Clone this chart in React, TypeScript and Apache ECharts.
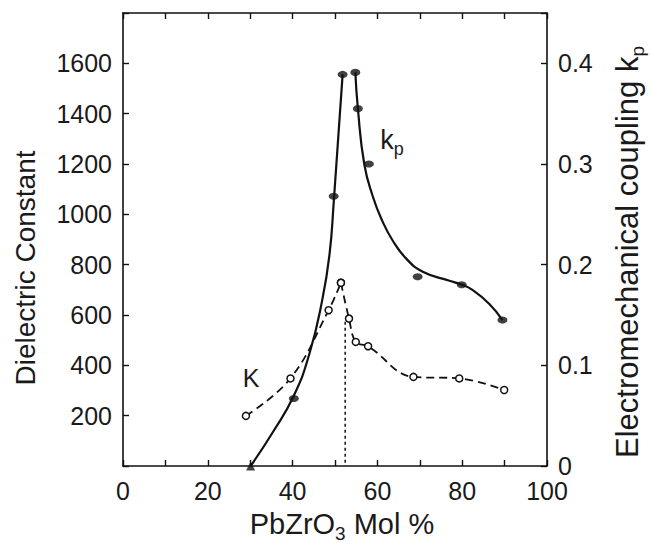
import React, { useEffect, useRef } from "react";
import * as echarts from "echarts";

// PbZrO3 mol % vs electromechanical coupling kp (filled markers)
const kpPoints: number[][] = [
  [30.1, 0.0], [40.3, 0.067], [49.7, 0.268], [51.8, 0.389], [54.8, 0.391],
  [55.4, 0.355], [58.0, 0.300], [69.5, 0.188], [79.9, 0.180], [89.5, 0.145],
];
// hand-drawn kp curve
const kpCurveLeft: number[][] = [
  [30.1, 0.0], [35.4, 0.034], [40.3, 0.070], [44.0, 0.112], [47.0, 0.165],
  [48.7, 0.210], [49.7, 0.262], [51.8, 0.389],
];
const kpCurveRight: number[][] = [
  [54.8, 0.391], [55.4, 0.355], [56.9, 0.300], [58.9, 0.268], [61.2, 0.243],
  [63.6, 0.224], [66.8, 0.206], [70.7, 0.193], [77.0, 0.184], [79.9, 0.180],
  [82.4, 0.175], [86.4, 0.161], [89.5, 0.145],
];
// dielectric constant K (open markers, dashed)
const kPoints: number[][] = [
  [29.0, 199], [39.5, 348], [48.5, 619], [51.4, 728], [53.3, 586],
  [54.9, 493], [57.8, 476], [68.5, 354], [79.3, 348], [89.9, 302],
];
const kPeakIndex = 3;
// morphotropic phase boundary (dotted vertical)
const boundary: number[][] = [[52.4, 573], [52.4, 0]];

const xTickLabels = [0, 20, 40, 60, 80, 100];
const leftTickLabels = [200, 400, 600, 800, 1000, 1200, 1400, 1600];
const rightTickLabels = ["0", "0.1", "0.2", "0.3", "0.4"];

const FONT = "Liberation Sans, Arial, Helvetica, sans-serif";
const INK = "#111";
const TXT = "#1a1a1a";

export default function App() {
  const ref = useRef<HTMLDivElement>(null);
  useEffect(() => {
    if (!ref.current) return;
    const chart = echarts.init(ref.current, undefined, { renderer: "svg" });
    const axisLine = { show: true, onZero: false, lineStyle: { color: INK, width: 1.6 } };
    const tick = { show: true, inside: true, length: 6, lineStyle: { color: INK, width: 1.4 } };
    const label = { color: TXT, fontSize: 25, fontFamily: FONT };
    const curve = {
      type: "line", yAxisIndex: 1, smooth: 0.5, showSymbol: false,
      lineStyle: { color: INK, width: 2.2 }, z: 3,
    };
    const kLine = {
      type: "line", yAxisIndex: 0, smooth: 0.4,
      symbol: "circle", symbolSize: 7, showSymbol: true,
      itemStyle: { color: "#fff", borderColor: INK, borderWidth: 1.5 },
      lineStyle: { color: INK, width: 1.8, type: [8, 5] }, z: 4,
    };
    chart.setOption({
      animation: false,
      backgroundColor: "#ffffff",
      grid: { left: 123, right: 104, top: 13, bottom: 81, containLabel: false },
      xAxis: [
        {
          type: "value", position: "bottom", min: 0, max: 100, interval: 10,
          axisLine, axisTick: tick, splitLine: { show: false },
          axisLabel: {
            ...label, margin: 12,
            formatter: (v: number) => (xTickLabels.includes(Math.round(v)) ? String(Math.round(v)) : ""),
          },
        },
        {
          type: "value", position: "top", min: 0, max: 100, interval: 10,
          axisLine, axisTick: tick, splitLine: { show: false }, axisLabel: { show: false },
        },
      ],
      yAxis: [
        {
          type: "value", position: "left", min: 0, max: 1800, interval: 200,
          axisLine, axisTick: tick, splitLine: { show: false },
          axisLabel: {
            ...label, margin: 11,
            formatter: (v: number) => (leftTickLabels.includes(Math.round(v)) ? String(Math.round(v)) : ""),
          },
        },
        {
          type: "value", position: "right", min: 0, max: 0.45, interval: 0.1,
          axisLine, axisTick: tick, splitLine: { show: false },
          axisLabel: {
            ...label, margin: 11,
            formatter: (v: number) => {
              const s = String(Math.round(v * 10) / 10);
              return rightTickLabels.includes(s) && Math.abs(v * 10 - Math.round(v * 10)) < 1e-6 ? s : "";
            },
          },
        },
      ],
      series: [
        { ...curve, data: kpCurveLeft },
        { ...curve, data: kpCurveRight },
        {
          type: "line", yAxisIndex: 0, data: boundary, showSymbol: false,
          lineStyle: { color: INK, width: 1.5, type: [3, 3] }, z: 2,
        },
        { ...kLine, data: kPoints.slice(0, kPeakIndex + 1) },
        { ...kLine, data: kPoints.slice(kPeakIndex) },
        {
          type: "scatter", yAxisIndex: 1, z: 5,
          data: kpPoints.map((p, i) =>
            i === 0
              ? { value: p, symbol: "triangle", symbolSize: 9 }
              : { value: p, symbol: "circle", symbolSize: [10, 7] }
          ),
          itemStyle: { color: INK },
        },
      ],
      graphic: [
        {
          type: "text", x: 25, y: 268, rotation: Math.PI / 2,
          style: {
            text: "Dielectric Constant", fontSize: 28, fontFamily: FONT, fill: TXT,
            align: "center", verticalAlign: "middle",
          },
        },
        {
          type: "text", x: 627, y: 252, rotation: Math.PI / 2,
          style: {
            text: "{m|Electromechanical coupling k}{s|p}",
            align: "center", verticalAlign: "middle", fill: TXT,
            rich: {
              m: { fontSize: 31, fontFamily: FONT, fill: TXT, verticalAlign: "middle", lineHeight: 40 },
              s: { fontSize: 19, fontFamily: FONT, fill: TXT, verticalAlign: "bottom", lineHeight: 40 },
            },
          },
        },
        {
          type: "text", x: 342, y: 524,
          style: {
            text: "{m|PbZrO}{s|3}{m| Mol %}",
            align: "center", verticalAlign: "middle", fill: TXT,
            rich: {
              m: { fontSize: 29, fontFamily: FONT, fill: TXT, verticalAlign: "middle", lineHeight: 38 },
              s: { fontSize: 19, fontFamily: FONT, fill: TXT, verticalAlign: "bottom", lineHeight: 38 },
            },
          },
        },
        {
          type: "text", x: 251, y: 378,
          style: {
            text: "K", fontSize: 25, fontFamily: FONT, fill: TXT,
            align: "center", verticalAlign: "middle",
          },
        },
        {
          type: "text", x: 392, y: 140,
          style: {
            text: "{m|k}{s|p}",
            align: "center", verticalAlign: "middle", fill: TXT,
            rich: {
              m: { fontSize: 27, fontFamily: FONT, fill: TXT, verticalAlign: "middle", lineHeight: 36 },
              s: { fontSize: 18, fontFamily: FONT, fill: TXT, verticalAlign: "bottom", lineHeight: 36 },
            },
          },
        },
      ],
    });
    return () => chart.dispose();
  }, []);
  return (
    <div
      ref={ref}
      style={{ position: "fixed", left: 0, top: 0, width: 651, height: 547, background: "#fff" }}
    />
  );
}
